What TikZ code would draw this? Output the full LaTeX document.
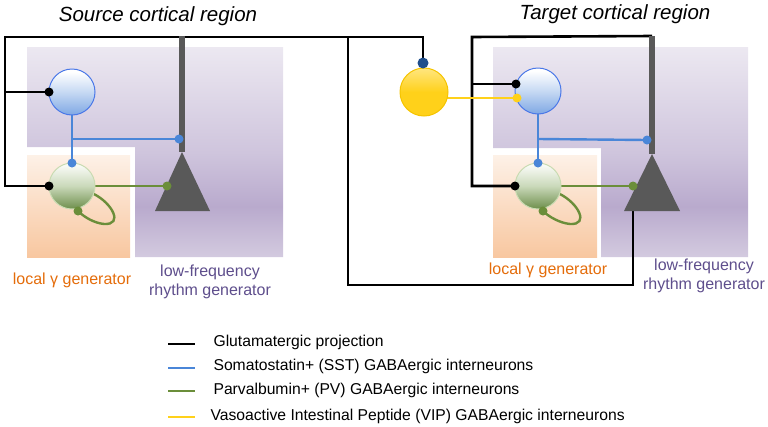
\documentclass[tikz,border=0pt]{standalone}
\usepackage{fontspec}
\setmainfont{Liberation Sans}
\definecolor{purT}{HTML}{ECE8F1}
\definecolor{purM}{HTML}{CFC5DD}
\definecolor{purD}{HTML}{B9AACD}
\definecolor{purB}{HTML}{D3CADF}
\definecolor{orT}{HTML}{FDF1E7}
\definecolor{orB}{HTML}{F8C7A0}
\definecolor{blueL}{HTML}{4A86D8}
\definecolor{blueE}{HTML}{4A78E8}
\definecolor{blueF}{HTML}{7FA8E4}
\definecolor{blueM}{HTML}{C6D9F3}
\definecolor{greenL}{HTML}{6B8E3A}
\definecolor{greenF}{HTML}{6E8F4C}
\definecolor{greenM}{HTML}{CAD9BA}
\definecolor{greenT}{HTML}{F8FAF5}
\definecolor{greenE}{HTML}{C9DBB2}
\definecolor{yel}{HTML}{FFD11A}
\definecolor{yelT}{HTML}{FFE680}
\definecolor{yelE}{HTML}{F5C400}
\definecolor{vipdot}{HTML}{1F4E8C}
\definecolor{pyr}{HTML}{595959}
\definecolor{lblO}{HTML}{E46C0A}
\definecolor{lblP}{HTML}{5E4E8C}
\pgfdeclareverticalshading{purpsh}{100bp}{color(0bp)=(purB); color(25bp)=(purB); color(37bp)=(purD); color(50bp)=(purM); color(75bp)=(purT); color(100bp)=(purT)}
\pgfdeclareverticalshading{bluesh}{100bp}{color(0bp)=(blueF); color(25bp)=(blueF); color(50bp)=(blueM); color(72bp)=(white); color(100bp)=(white)}
\pgfdeclareverticalshading{greensh}{100bp}{color(0bp)=(greenF); color(25bp)=(greenF); color(50bp)=(greenM); color(72bp)=(greenT); color(100bp)=(greenT)}
\begin{document}
\begin{tikzpicture}[x=1pt,y=-1pt,
  glu/.style={line width=2.6pt, black},
  apical/.style={line width=5.5pt, pyr},
  sst/.style={line width=2.4pt, blueL},
  pv/.style={line width=2.4pt, greenL},
  vipl/.style={line width=2.4pt, yel},
  dot/.style={circle, fill=#1, inner sep=0pt, minimum size=9pt},
  cell/.style={circle, inner sep=0pt, minimum size=46pt, line width=1pt},
  sstcell/.style={cell, draw=blueE, shading=bluesh},
  pvcell/.style={cell, draw=greenE, shading=greensh},
  vipcell/.style={cell, minimum size=48pt, draw=yelE, top color=yelT, bottom color=yel, middle color=yel},
  pyramid/.style={fill=pyr},
  purregion/.style={shading=purpsh},
  orregion/.style={top color=orT, bottom color=orB},
  lbl/.style={font=\fontsize{16}{19.5}\selectfont, align=center},
  ttl/.style={font=\fontsize{20.5}{24}\selectfont\itshape},
  leg/.style={font=\fontsize{15.7}{19}\selectfont, anchor=west},
  legline/.style={line width=2.8pt},
]
\useasboundingbox (0,0) rectangle (768,426);

% ---------- regions ----------
\path[purregion] (27,47) -- (283,47) -- (283,257) -- (135,257) -- (135,147) -- (27,147) -- cycle;
\path[orregion] (27,155) rectangle (130,257);
\path[purregion] (493,47) -- (748,47) -- (748,257) -- (601,257) -- (601,148) -- (493,148) -- cycle;
\path[orregion] (493,155) rectangle (597,257);

% ---------- titles ----------
\node[ttl] (tsrc) at (158,16) {Source cortical region};
\node[ttl] (ttgt) at (615,14) {Target cortical region};

% ---------- source coordinates ----------
\coordinate (sApex) at (182,152);
\coordinate (sBL) at (155,211);
\coordinate (sBR) at (210,211);
\coordinate (sTop) at (182,36);
\coordinate (sL1) at (5,37);
\coordinate (sL2) at (5,92);
\coordinate (sL3) at (5,186);
\coordinate (sBr) at (72,139);
\coordinate (jTop) at (348,37);
\coordinate (jBot) at (348,285);
\coordinate (vTop) at (423,37);

% ---------- target coordinates ----------
\coordinate (tApex) at (652,154);
\coordinate (tBL) at (624,211);
\coordinate (tBR) at (680,211);
\coordinate (tTop) at (652,36);
\coordinate (tL1) at (472,37);
\coordinate (tL2) at (472,84);
\coordinate (tL3) at (472,186);
\coordinate (tBr) at (538,139);
\coordinate (tBase) at (633,211);
\coordinate (tDown) at (633,285);

% ---------- dot positions ----------
\coordinate (sbd) at (49,92);
\coordinate (sgd) at (49,186);
\coordinate (sbgd) at (72,163);
\coordinate (sapd) at (179,139);
\coordinate (spd) at (167,186);
\coordinate (sld) at (78,211);
\coordinate (vipd) at (423,63);
\coordinate (tbd) at (516,84);
\coordinate (tyd) at (517,98);
\coordinate (tgd) at (515,186);
\coordinate (tbgd) at (538,163);
\coordinate (tapd) at (647,140);
\coordinate (tpd) at (633,186);
\coordinate (tld) at (543,211);

% ---------- cell positions ----------
\coordinate (sbluec) at (72,92);
\coordinate (sgreenc) at (72,186);
\coordinate (vipc) at (424,92);
\coordinate (tbluec) at (538,91);
\coordinate (tgreenc) at (538,186);

% glutamatergic
\draw[glu] (sgd) -- (sL3) -- (sL1) -- (vTop) -- (vipd);
\draw[glu] (sbd) -- (sL2);
\draw[glu] (tBase) -- (tDown) -- (jBot) -- (jTop);
\draw[glu] (tgd) -- (tL3) -- (tL1) -- (tTop);
\draw[glu] (tbd) -- (tL2);
\draw[apical] (sTop) -- (sApex);
\draw[apical] (tTop) -- (tApex);

% pyramids
\fill[pyramid] (sApex) -- (sBL) -- (sBR) -- cycle;
\fill[pyramid] (tApex) -- (tBL) -- (tBR) -- cycle;

% SST
\draw[sst] (sbluec) -- (sbgd);
\draw[sst] (sBr) -- (sapd);
\draw[sst] (tbluec) -- (tbgd);
\draw[sst] (tBr) -- (tapd);

% PV
\draw[pv] (sgreenc) -- (spd);
\draw[pv] ([shift={(-20:23pt)}]sgreenc) .. controls (112,203) and (124,225) .. (104,224) .. controls (94,223) and (84,217) .. (sld);
\draw[pv] (tgreenc) -- (tpd);
\draw[pv] ([shift={(-20:23pt)}]tgreenc) .. controls (578,203) and (590,225) .. (570,224) .. controls (560,223) and (549,217) .. (tld);

% VIP
\draw[vipl] (tyd) -- (vipc |- tyd);

% cells
\node[sstcell] (sblue) at (sbluec) {};
\node[pvcell] (sgreen) at (sgreenc) {};
\node[vipcell] (vip) at (vipc) {};
\node[sstcell] (tblue) at (tbluec) {};
\node[pvcell] (tgreen) at (tgreenc) {};

% dots
\foreach \d/\c in {sbd/black, sgd/black, sbgd/blueL, sapd/blueL, spd/greenL, sld/greenL, tbd/black, tyd/yel, tgd/black, tbgd/blueL, tapd/blueL, tpd/greenL, tld/greenL}
  \node[dot=\c] (\d-n) at (\d) {};
\node[dot=vipdot, minimum size=11pt] (vipd-n) at (vipd) {};

% ---------- labels ----------
\node[lbl, text=lblO] (slg) at (72,280) {local γ generator};
\node[lbl, text=lblP] (slf) at (210,282) {low-frequency\\rhythm generator};
\node[lbl, text=lblO] (tlg) at (548,270) {local γ generator};
\node[lbl, text=lblP] (tlf) at (704,276) {low-frequency\\rhythm generator};

% ---------- legend ----------
\coordinate (l1a) at (168,344); \coordinate (l1b) at (195,344);
\coordinate (l2a) at (168,368); \coordinate (l2b) at (195,368);
\coordinate (l3a) at (168,391); \coordinate (l3b) at (195,391);
\coordinate (l4a) at (168,417); \coordinate (l4b) at (195,417);
\draw[legline, black] (l1a) -- (l1b);
\draw[legline, blueL] (l2a) -- (l2b);
\draw[legline, greenL] (l3a) -- (l3b);
\draw[legline, yel] (l4a) -- (l4b);
\node[leg] (t1) at (210,342) {Glutamatergic projection};
\node[leg] (t2) at (210,366) {Somatostatin+ (SST) GABAergic interneurons};
\node[leg] (t3) at (210,390) {Parvalbumin+ (PV) GABAergic interneurons};
\node[leg] (t4) at (207,416) {Vasoactive Intestinal Peptide (VIP) GABAergic interneurons};
\end{tikzpicture}
\end{document}
